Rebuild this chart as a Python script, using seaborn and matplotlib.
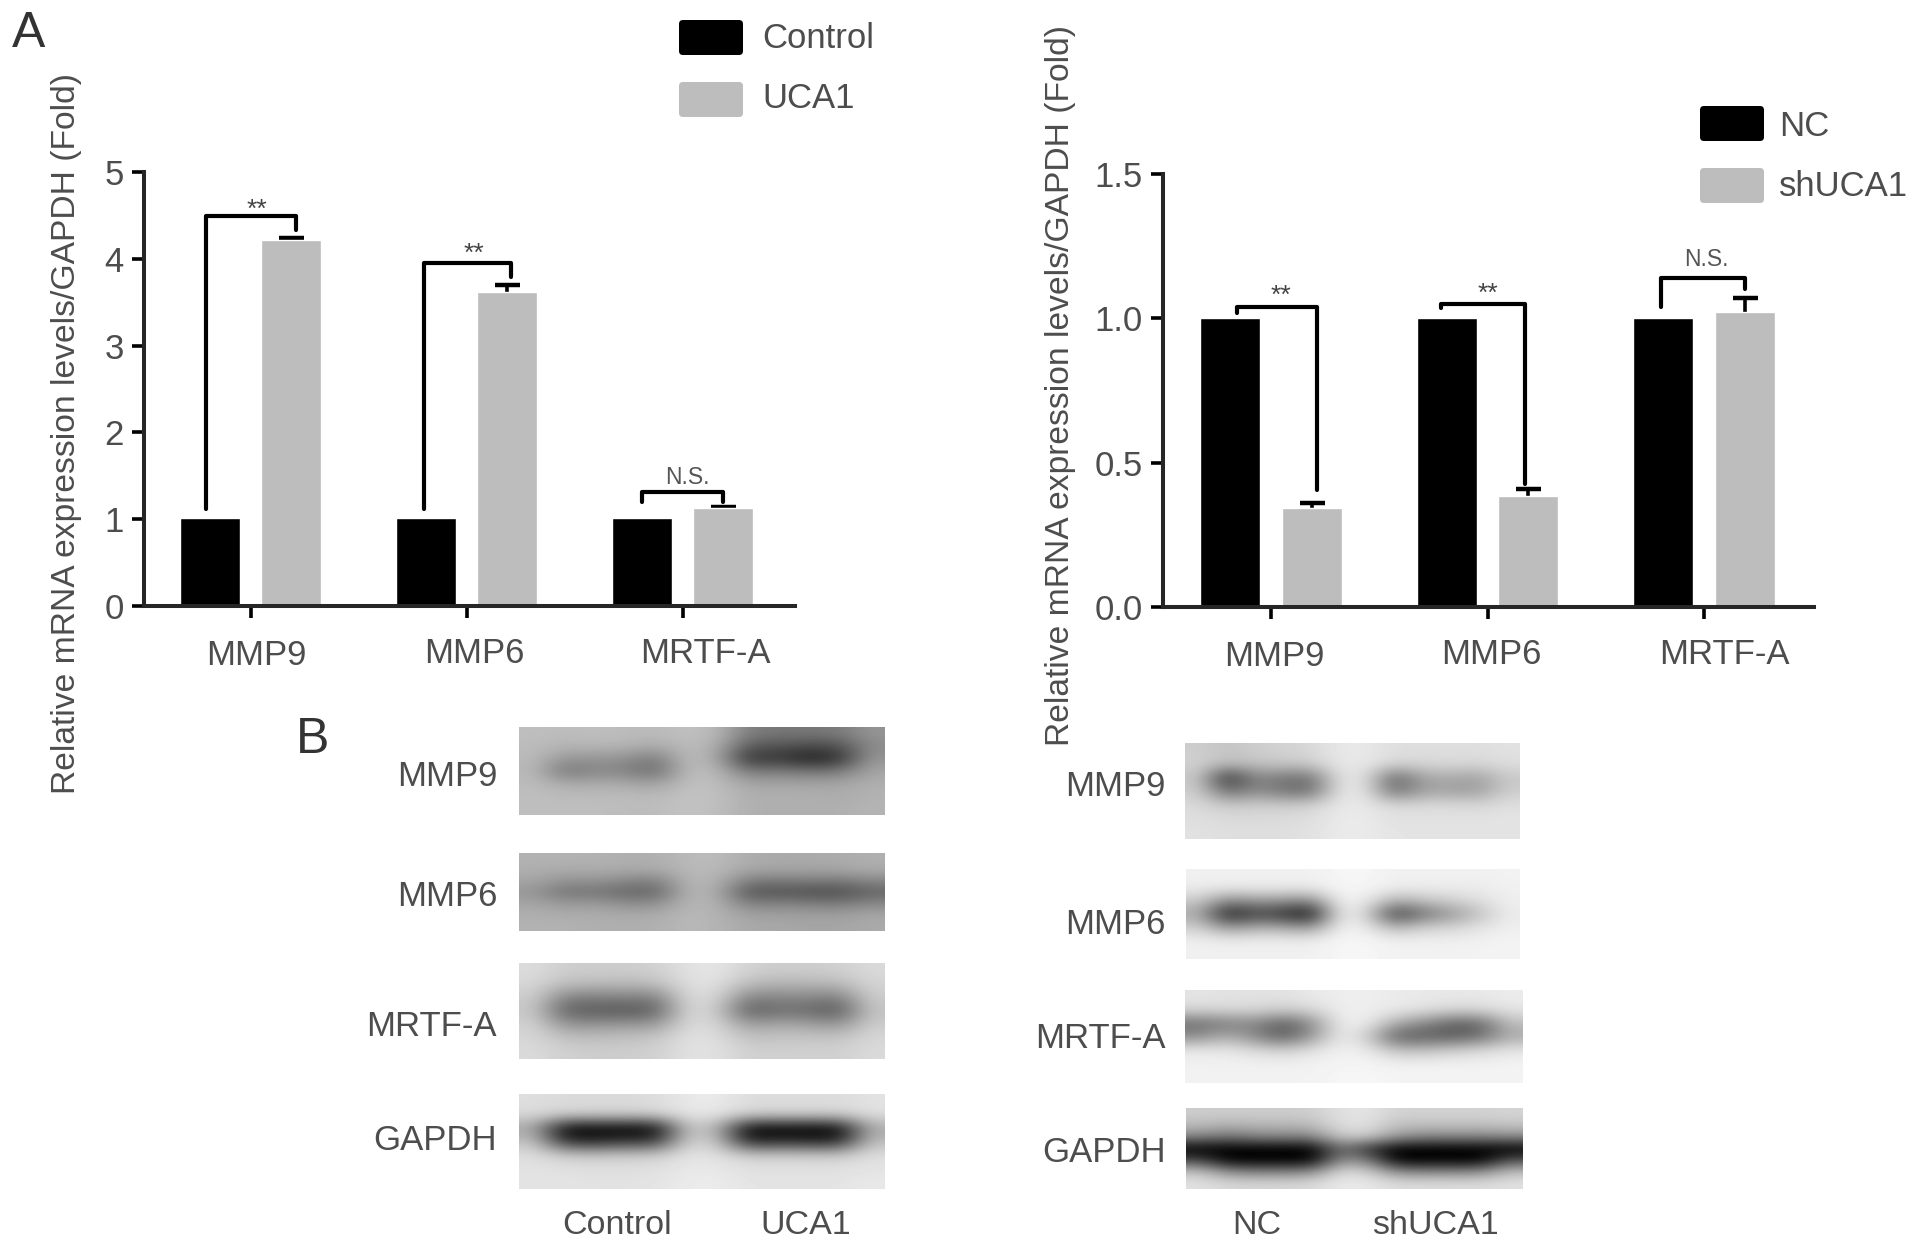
import numpy as np
import pandas as pd
import matplotlib
matplotlib.use("Agg")
import matplotlib.pyplot as plt
import seaborn as sns
from matplotlib.patches import FancyBboxPatch
from matplotlib.transforms import ScaledTranslation

# Bar data
genes = ['MMP9', 'MMP6', 'MRTF-A']
control_vals = [1.01, 1.01, 1.01]
uca1_vals = [4.22, 3.62, 1.13]
uca1_err = [0.025, 0.08, 0.015]
nc_vals = [1.0, 1.0, 1.0]
shuca1_vals = [0.344, 0.383, 1.023]
shuca1_err = [0.018, 0.026, 0.047]

# Brackets: gene index, left x, right x, top, left leg end, right leg end
left_brackets = [(0, -0.208, 0.209, 4.49, 1.12, 4.33),
                 (1, -0.197, 0.206, 3.95, 1.12, 3.79),
                 (2, -0.190, 0.185, 1.31, 1.20, 1.20)]
right_brackets = [(0, -0.157, 0.212, 1.04, 1.02, 0.406),
                  (1, -0.215, 0.173, 1.05, 1.035, 0.425),
                  (2, -0.200, 0.190, 1.14, 1.04, 1.10)]

# Blot grey levels (7 rows, 12 columns)
blot_l_mmp9 = [[190, 188, 190, 188, 186, 192, 186, 125, 120, 120, 122, 150],
               [188, 180, 182, 180, 170, 190, 175, 90, 85, 75, 80, 140],
               [186, 150, 150, 145, 120, 190, 170, 50, 55, 30, 45, 150],
               [185, 115, 135, 130, 105, 188, 185, 120, 125, 115, 120, 165],
               [188, 170, 172, 170, 160, 192, 190, 165, 165, 165, 165, 175],
               [190, 188, 188, 188, 186, 195, 192, 175, 175, 175, 172, 178],
               [190, 190, 190, 188, 188, 195, 190, 175, 175, 175, 175, 180]]
blot_l_mmp6 = [[178, 178, 178, 175, 175, 185, 188, 172, 170, 170, 172, 175],
               [175, 170, 172, 170, 168, 185, 185, 165, 165, 162, 165, 170],
               [165, 145, 148, 135, 125, 182, 180, 125, 120, 125, 120, 135],
               [150, 115, 118, 105, 100, 180, 175, 85, 85, 80, 78, 100],
               [165, 150, 155, 140, 140, 182, 178, 125, 130, 125, 120, 135],
               [175, 172, 172, 170, 170, 185, 180, 160, 160, 158, 158, 165],
               [178, 178, 175, 175, 175, 185, 180, 168, 168, 165, 165, 170]]
blot_l_mrtf = [[220, 205, 205, 205, 208, 225, 230, 210, 205, 205, 208, 218],
               [215, 190, 188, 185, 190, 222, 225, 188, 180, 182, 185, 212],
               [205, 130, 125, 130, 125, 218, 215, 130, 135, 135, 125, 205],
               [200, 95, 90, 85, 95, 215, 205, 90, 110, 105, 85, 195],
               [210, 150, 150, 155, 155, 218, 215, 160, 170, 165, 150, 205],
               [215, 195, 192, 195, 200, 225, 222, 195, 198, 198, 198, 215],
               [218, 208, 205, 205, 208, 225, 225, 208, 208, 208, 208, 218]]
blot_l_gapdh = [[222, 218, 218, 218, 220, 232, 235, 220, 220, 220, 220, 226],
                [218, 212, 210, 210, 212, 230, 230, 210, 210, 210, 210, 224],
                [165, 0, 0, 0, 0, 195, 180, 0, 0, 0, 0, 170],
                [195, 45, 40, 55, 55, 208, 200, 35, 45, 40, 35, 190],
                [222, 205, 200, 205, 205, 228, 225, 205, 205, 205, 203, 222],
                [226, 224, 222, 222, 224, 232, 232, 224, 224, 224, 224, 228],
                [228, 228, 226, 226, 228, 235, 235, 228, 228, 228, 228, 232]]
blot_r_mmp9 = [[205, 195, 205, 210, 215, 232, 232, 222, 222, 222, 222, 225],
               [210, 190, 195, 200, 205, 232, 232, 215, 215, 218, 215, 222],
               [200, 40, 135, 120, 110, 225, 225, 95, 165, 170, 160, 200],
               [205, 105, 140, 115, 105, 228, 228, 105, 160, 160, 155, 205],
               [218, 200, 205, 205, 208, 232, 232, 215, 218, 218, 215, 222],
               [222, 218, 218, 218, 222, 234, 234, 225, 225, 225, 225, 228],
               [225, 222, 222, 222, 225, 234, 234, 228, 228, 228, 228, 228]]
blot_r_mmp6 = [[240, 240, 240, 240, 240, 246, 246, 240, 240, 240, 240, 242],
               [235, 232, 232, 232, 232, 245, 245, 235, 235, 235, 235, 240],
               [200, 130, 150, 145, 130, 240, 235, 170, 190, 205, 220, 238],
               [170, 25, 70, 50, 15, 235, 215, 55, 115, 150, 190, 235],
               [205, 145, 170, 165, 145, 240, 235, 175, 205, 210, 225, 238],
               [238, 234, 235, 235, 235, 246, 246, 238, 238, 238, 240, 242],
               [240, 240, 240, 240, 240, 246, 246, 242, 242, 242, 242, 244]]
blot_r_mrtf = [[228, 226, 226, 226, 232, 238, 238, 234, 232, 232, 232, 236],
               [215, 215, 215, 205, 215, 238, 238, 234, 225, 215, 215, 228],
               [110, 125, 135, 90, 140, 238, 236, 170, 135, 95, 100, 190],
               [140, 175, 135, 90, 150, 238, 205, 90, 95, 90, 110, 170],
               [232, 230, 218, 205, 225, 240, 235, 190, 190, 205, 215, 228],
               [240, 240, 240, 240, 240, 244, 244, 240, 240, 240, 240, 242],
               [242, 242, 242, 242, 242, 246, 246, 244, 244, 244, 244, 244]]
blot_r_gapdh = [[205, 205, 205, 205, 205, 225, 228, 210, 210, 210, 210, 212],
                [185, 175, 180, 180, 185, 222, 224, 190, 190, 190, 190, 195],
                [130, 110, 130, 130, 130, 200, 200, 150, 130, 130, 130, 135],
                [0, 0, 0, 0, 0, 110, 50, 0, 0, 0, 0, 0],
                [70, 0, 0, 0, 0, 145, 125, 0, 0, 0, 0, 80],
                [195, 140, 130, 130, 140, 218, 208, 140, 135, 135, 140, 190],
                [225, 215, 215, 215, 218, 235, 232, 220, 220, 220, 220, 225]]

W, H = 1913, 1247
TEXT = '#4d4d4d'
GREY = '#bdbdbd'
YLABEL = 'Relative mRNA expression levels/GAPDH (Fold)'

sns.set_theme(style="ticks")
plt.rcParams['font.family'] = ['Liberation Sans', 'DejaVu Sans']


def axes_at(fig, x0, x1, y0, y1):
    # pixel box of the picture -> figure fraction
    return fig.add_axes([x0 / W, 1 - y1 / H, (x1 - x0) / W, (y1 - y0) / H])


def bar_panel(ax, names, vals0, vals1, err, xlim, ylim, yticks, ylabels, brackets, label_shift):
    df = pd.DataFrame({
        'gene': genes * 2,
        'value': vals0 + vals1,
        'group': [names[0]] * 3 + [names[1]] * 3,
    })
    sns.barplot(data=df, x='gene', y='value', hue='group', order=genes, hue_order=names,
                palette=['black', GREY], width=0.75, gap=0.26, saturation=1,
                errorbar=None, legend=False, ax=ax, zorder=2)

    # Error bars go behind the grey bars, so only the upper half shows
    centers = [b.get_x() + b.get_width() / 2 for b in ax.containers[1]]
    ax.errorbar(centers, vals1, yerr=err, fmt='none', ecolor='black',
                elinewidth=2.6, capsize=9, capthick=3.2, zorder=1)

    for i, xa, xb, top, leg_a, leg_b in brackets:
        ax.plot([i + xa, i + xa, i + xb, i + xb], [leg_a, top, top, leg_b],
                color='black', lw=3, solid_joinstyle='round', zorder=5, clip_on=False)

    ax.set_xlim(*xlim)
    ax.set_ylim(*ylim)
    ax.set_yticks(yticks)
    ax.set_yticklabels(ylabels, fontsize=25, color=TEXT)
    ax.set_xlabel('')
    ax.set_ylabel('')
    ax.tick_params(axis='both', length=8.6, width=2.6, color='black')
    ax.tick_params(axis='y', pad=6)
    ax.tick_params(axis='x', pad=15, labelsize=25, labelcolor=TEXT)
    for side in ['left', 'bottom']:
        ax.spines[side].set_linewidth(2.9)
    sns.despine(ax=ax)

    # Category labels sit a little right of their ticks in the figure
    for lab, (dx, dy) in zip(ax.get_xticklabels(), label_shift):
        lab.set_transform(lab.get_transform() + ScaledTranslation(dx / 100, dy / 100, ax.figure.dpi_scale_trans))


fig = plt.figure(figsize=(W / 100, H / 100), dpi=100, facecolor='white')

ax_l = axes_at(fig, 144, 795, 172, 606)
bar_panel(ax_l, ['Control', 'UCA1'], control_vals, uca1_vals, uca1_err,
          (-0.493, 2.52), (0, 5), [0, 1, 2, 3, 4, 5], ['0', '1', '2', '3', '4', '5'],
          left_brackets, [(6, 0), (8, 2), (23, 2)])

ax_r = axes_at(fig, 1163, 1814, 174, 607)
bar_panel(ax_r, ['NC', 'shUCA1'], nc_vals, shuca1_vals, shuca1_err,
          (-0.499, 2.508), (0, 1.5), [0, 0.5, 1.0, 1.5], ['0.0', '0.5', '1.0', '1.5'],
          right_brackets, [(3, 0), (4, 2), (20, 2)])

# Overlay in picture pixels for the free text, legends and blots
over = fig.add_axes([0, 0, 1, 1], facecolor='none')

blots = [(blot_l_mmp9, 519, 885, 727, 815), (blot_l_mmp6, 519, 885, 853.5, 931),
         (blot_l_mrtf, 519, 885, 963, 1059), (blot_l_gapdh, 519, 885, 1095, 1189.5),
         (blot_r_mmp9, 1185, 1520, 743.5, 839), (blot_r_mmp6, 1186, 1520, 869.6, 958.7),
         (blot_r_mrtf, 1185, 1523, 990, 1083), (blot_r_gapdh, 1186, 1523, 1108, 1189)]
for grid, x0, x1, y0, y1 in blots:
    over.imshow(np.array(grid), cmap='gray', vmin=0, vmax=255, extent=(x0, x1, y1, y0),
                interpolation='bicubic', aspect='auto')

over.set_xlim(0, W)
over.set_ylim(H, 0)
over.axis('off')

for name, color, x0, y0, tx, ty in [('Control', 'black', 679, 20, 762, 38), ('UCA1', GREY, 679, 82, 762, 98),
                                    ('NC', 'black', 1700, 106, 1779, 127), ('shUCA1', GREY, 1700, 168, 1779, 186)]:
    over.add_patch(FancyBboxPatch((x0 + 4, y0 + 4), 56, 27, boxstyle='round,pad=4',
                                  facecolor=color, edgecolor='none'))
    over.text(tx, ty, name, fontsize=25, color=TEXT, ha='left', va='center')

over.text(67, 433, YLABEL, fontsize=24.2, color=TEXT, rotation=90, ha='center', va='center')
over.text(1060, 385, YLABEL, fontsize=24.2, color=TEXT, rotation=90, ha='center', va='center')

over.text(29, 34, 'A', fontsize=36, color='#333333', ha='center', va='center')
over.text(313, 740, 'B', fontsize=36, color='#333333', ha='center', va='center')

for x, y in [(257, 210), (474, 254), (1281, 296), (1488, 294)]:
    over.text(x, y, '**', fontsize=19, color='#444444', ha='center', va='center')
for x, y in [(687, 477), (1706, 260)]:
    over.text(x, y, 'N.S.', fontsize=16.5, color='#555555', ha='center', va='center')

for txt, x, y in [('MMP9', 497, 776), ('MMP6', 497, 896), ('MRTF-A', 497, 1027), ('GAPDH', 497, 1141),
                  ('MMP9', 1166, 787), ('MMP6', 1166, 924), ('MRTF-A', 1166, 1039), ('GAPDH', 1166, 1153)]:
    over.text(x, y, txt, fontsize=25, color=TEXT, ha='right', va='center')

for txt, x in [('Control', 617), ('UCA1', 806), ('NC', 1257), ('shUCA1', 1435)]:
    over.text(x, 1225, txt, fontsize=24.5, color=TEXT, ha='center', va='center')

fig.savefig('out.png', dpi=100)
plt.close(fig)
